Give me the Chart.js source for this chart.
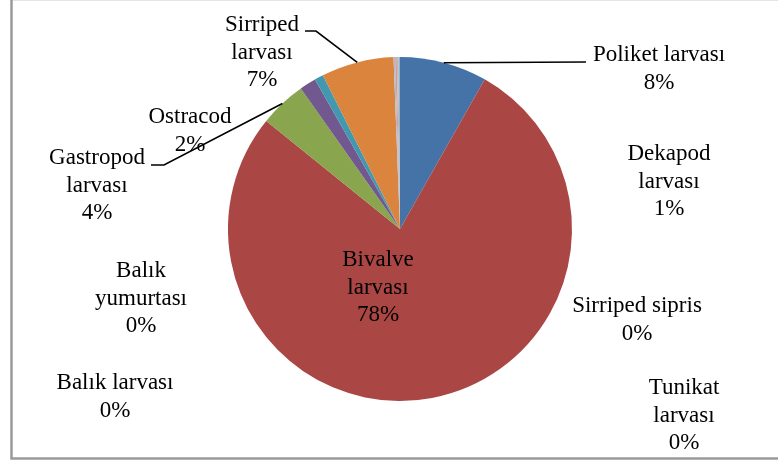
<!DOCTYPE html>
<html lang="tr">

<head>
    <meta charset="UTF-8">
    <title>Zooplankton dağılımı</title>
    <script src="https://cdn.jsdelivr.net/npm/chart.js"></script>
    <style>
        body { margin: 0; background: #fff; }
        .janela { position: relative; width: 778px; height: 461px; }
        canvas { position: absolute; left: 0; top: 0; }
    </style>
</head>

<body>
    <div class="janela">
        <canvas id="pieChart" width="778" height="461"></canvas>
    </div>

<script>
    // dados (ordem das fatias, sentido horário a partir do topo)
    var categorias = ["Poliket larvası", "Bivalve larvası", "Gastropod larvası", "Ostracod",
        "Dekapod larvası", "Sirriped larvası", "Sirriped sipris", "Tunikat larvası",
        "Balık yumurtası", "Balık larvası"];
    var valores = [8.2, 77.6, 4.4, 1.55, 0.83, 6.8, 0.15, 0.15, 0.15, 0.15];
    var cores = ['#4572A7', '#AA4643', '#89A54E', '#71588F', '#4198AF', '#DB843D',
        '#A9BCD6', '#D39A99', '#C6B9A6', '#93B4D6'];

    // posição dos rótulos (centro da primeira linha) e linhas de chamada
    var rotulos = [
        { x: 659, y: 55, wrap: false, line: [[586, 62]] },
        { x: 378, y: 260, wrap: true },
        { x: 97, y: 158, wrap: true, line: [[164, 165], [151, 165]] },
        { x: 190, y: 117, wrap: false },
        { x: 669, y: 154, wrap: true },
        { x: 262, y: 25, wrap: true, line: [[316, 31], [305, 31]] },
        { x: 637, y: 306, wrap: false },
        { x: 684, y: 388, wrap: true },
        { x: 141, y: 271, wrap: true },
        { x: 115, y: 383, wrap: false }
    ];

    var total = valores.reduce(function (a, b) { return a + b; }, 0);

    // moldura cinza do gráfico
    const moldura = {
        id: 'moldura',
        beforeDraw(chart) {
            const c = chart.ctx;
            c.save();
            c.fillStyle = '#fff';
            c.fillRect(0, 0, 778, 461);
            c.strokeStyle = '#e4e4e4';
            c.lineWidth = 1;
            c.beginPath(); c.moveTo(11, 0.5); c.lineTo(778, 0.5); c.stroke();
            c.strokeStyle = '#9a9a9a';
            c.lineWidth = 2.5;
            c.beginPath();
            c.moveTo(11.5, 0); c.lineTo(11.5, 458.5); c.lineTo(778, 458.5);
            c.stroke();
            c.restore();
        }
    };

    // rótulos com nome e porcentagem, estilo Excel
    const rotulosPlugin = {
        id: 'rotulos',
        afterDatasetsDraw(chart) {
            const c = chart.ctx;
            const arcs = chart.getDatasetMeta(0).data;
            c.save();
            c.font = '23px "Liberation Serif", "Times New Roman", serif';
            c.fillStyle = '#000';
            c.textAlign = 'center';
            c.textBaseline = 'middle';
            arcs.forEach(function (arc, i) {
                var r = rotulos[i];
                var pct = Math.round(valores[i] / total * 100) + '%';
                var linhas = r.wrap ? categorias[i].split(' ') : [categorias[i]];
                linhas.push(pct);
                linhas.forEach(function (t, k) {
                    c.fillText(t, r.x, r.y + k * 27.5);
                });
                if (r.line) {
                    var p = arc.getProps(['x', 'y', 'startAngle', 'endAngle', 'outerRadius'], true);
                    var meio = (p.startAngle + p.endAngle) / 2;
                    c.strokeStyle = '#000';
                    c.lineWidth = 1.6;
                    c.beginPath();
                    c.moveTo(p.x + Math.cos(meio) * p.outerRadius, p.y + Math.sin(meio) * p.outerRadius);
                    r.line.forEach(function (pt) { c.lineTo(pt[0], pt[1]); });
                    c.stroke();
                }
            });
            c.restore();
        }
    };

    const ctx = document.getElementById("pieChart");
    new Chart(ctx, {
        type: "pie",
        data: {
            labels: categorias,
            datasets: [{
                data: valores,
                backgroundColor: cores,
                borderWidth: 0
            }]
        },
        options: {
            responsive: false,
            animation: false,
            layout: { padding: { left: 22, right: 0, top: 57, bottom: 60 } },
            plugins: {
                legend: { display: false },
                tooltip: { enabled: false }
            }
        },
        plugins: [moldura, rotulosPlugin]
    });
</script>
</body>

</html>
